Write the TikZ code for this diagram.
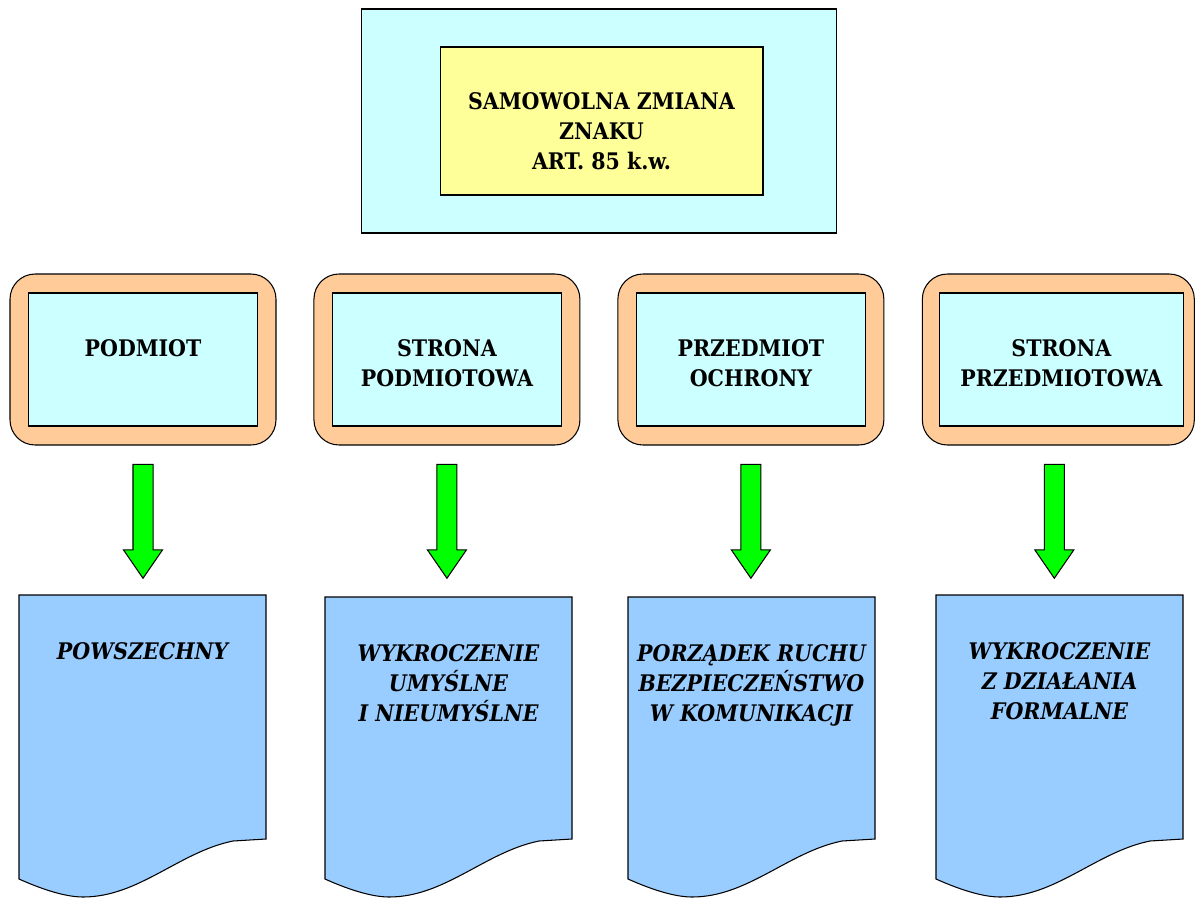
\documentclass[tikz,border=0pt]{standalone}
\usepackage{fontspec}
\setmainfont{DejaVu Serif Condensed}
\usetikzlibrary{positioning}
\usetikzlibrary{shapes.arrows}
\definecolor{Paleblue}{HTML}{CCFFFF}
\definecolor{Paleyellow}{HTML}{FFFF99}
\definecolor{Peach}{HTML}{FFCC99}
\definecolor{Sky}{HTML}{99CCFF}
\definecolor{Brightgreen}{HTML}{00FF00}

\begin{document}
\begin{tikzpicture}[
  x=0.02cm, y=-0.02cm,
  node distance=6.08cm,
  on grid,
  line width=0.6pt,
  every node/.style={font=\bfseries\fontsize{13}{17}\selectfont},
  titleframe/.style={draw, fill=Paleblue, minimum width=9.52cm, minimum height=4.48cm},
  titlebox/.style={draw, fill=Paleyellow, minimum width=6.46cm, minimum height=2.96cm},
  framebox/.style={draw, fill=Peach, rounded corners=0.5cm, minimum width=5.32cm, minimum height=3.42cm},
  headbox/.style={draw, fill=Paleblue, minimum width=4.58cm, minimum height=2.66cm},
  lbl/.style={on grid=false, align=center, inner sep=0pt},
  doclbl/.style={lbl, font=\bfseries\itshape\fontsize{13}{17}\selectfont},
  downarrow/.style={draw, fill=Brightgreen, single arrow, shape border rotate=270,
    minimum height=2.28cm, inner sep=0.19cm,
    single arrow head extend=0.19cm, single arrow tip angle=69},
  docsheet/.style={draw, fill=Sky},
  ]
\useasboundingbox (0,0) rectangle (1196,899);

% title
\node [titleframe] (frame) at (599,121) {};
\node [titlebox] (title) at (601.5,121) {};
\node [lbl, below=0.92cm of title.north] (titletext) {SAMOWOLNA ZMIANA\\ZNAKU\\ART. 85 k.w.};

% four headings
\node [framebox] (o1) at (143,359.5) {};
\node [framebox] (o2) [right=of o1] {};
\node [framebox] (o3) [right=of o2] {};
\node [framebox, minimum width=5.44cm] (o4) [right=6.15cm of o3] {};
\node [headbox] (h1) at (o1) {};
\node [headbox] (h2) at (o2) {};
\node [headbox] (h3) at (o3) {};
\node [headbox, minimum width=4.88cm] (h4) at ([xshift=0.06cm]o4) {};
\node [lbl, below=0.94cm of h1.north] (t1) {PODMIOT};
\node [lbl, below=0.94cm of h2.north] (t2) {STRONA\\PODMIOTOWA};
\node [lbl, below=0.94cm of h3.north] (t3) {PRZEDMIOT\\OCHRONY};
\node [lbl, below=0.94cm of h4.north] (t4) {STRONA\\PRZEDMIOTOWA};

% arrows
\node [downarrow] (a1) [below=3.09cm of o1] {};
\node [downarrow] (a2) [below=3.09cm of o2] {};
\node [downarrow] (a3) [below=3.09cm of o3] {};
\node [downarrow] (a4) [below=3.09cm of o4, xshift=-0.08cm] {};

% documents
\foreach \x/\t [count=\i] in {19/595, 325/597, 628/597, 936/595} {
  \draw [docsheet] (\x,\t) -- (\x+247,\t) -- (\x+247,839) -- (\x+214,841)
    .. controls (\x+160,852) and (\x+120,897) .. (\x+64,897)
    .. controls (\x+45,897) and (\x+20,888) .. (\x,879) -- cycle;
  \coordinate (p\i) at (\x+123.5,\t);
}
\node [doclbl, below=0.94cm of p1] (d1) {POWSZECHNY};
\node [doclbl, below=0.94cm of p2] (d2) {WYKROCZENIE\\UMYŚLNE\\I NIEUMYŚLNE};
\node [doclbl, below=0.94cm of p3] (d3) {PORZĄDEK RUCHU\\BEZPIECZEŃSTWO\\W KOMUNIKACJI};
\node [doclbl, below=0.94cm of p4] (d4) {WYKROCZENIE\\Z DZIAŁANIA\\FORMALNE};
\end{tikzpicture}
\end{document}
